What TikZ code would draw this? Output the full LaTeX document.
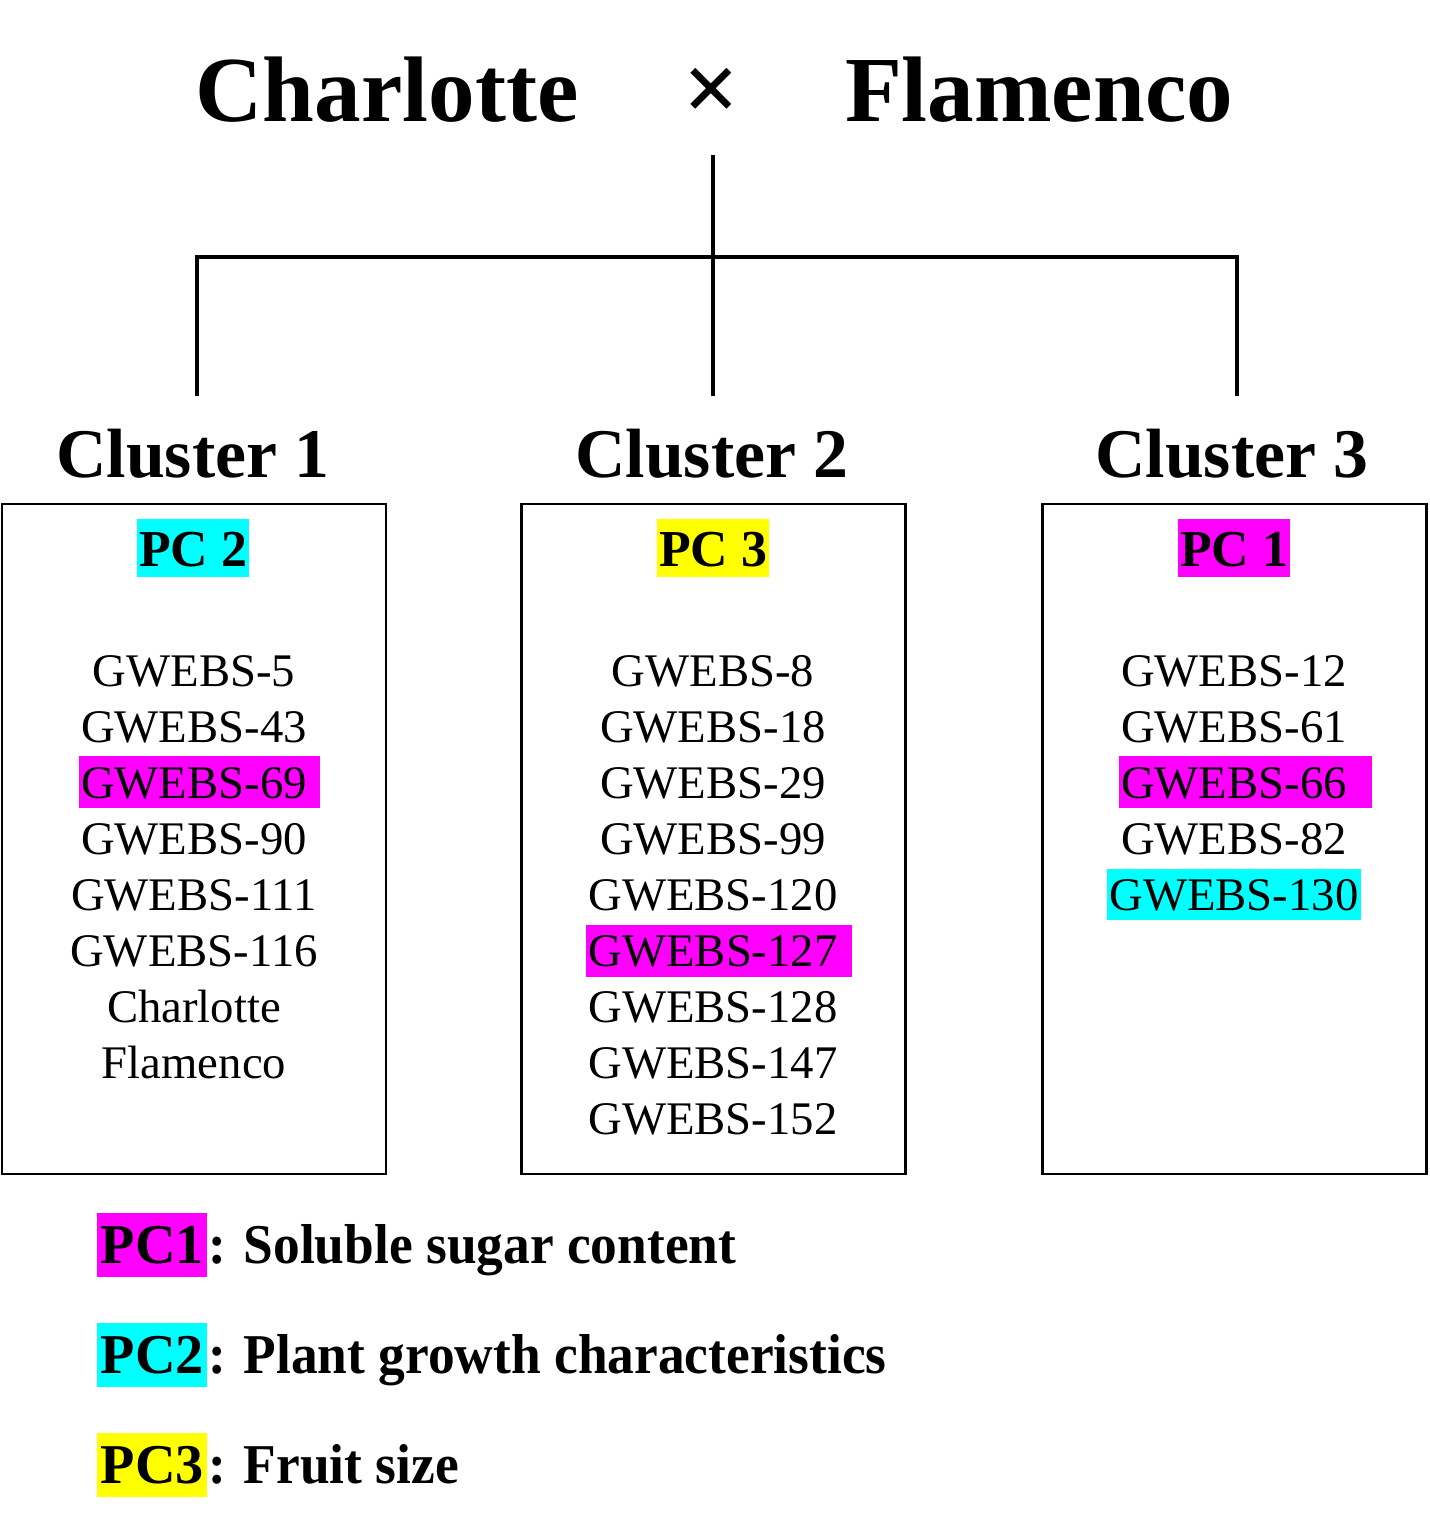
\documentclass[tikz,border=0pt]{standalone}
\usepackage{fontspec}
\setmainfont{Liberation Serif}
\newfontfamily\legfont{Liberation Serif}[FakeStretch=0.95]
\usepackage{tikz}
\definecolor{pcone}{RGB}{255,0,255}
\definecolor{pctwo}{RGB}{0,255,255}
\definecolor{pcthree}{RGB}{255,255,0}
\usetikzlibrary{positioning}

\begin{document}
\begin{tikzpicture}[x=0.02cm, y=-0.02cm,
    parentname/.style={font=\bfseries\fontsize{53pt}{60pt}\selectfont, anchor=base, inner sep=0pt},
    clusterhead/.style={font=\bfseries\fontsize{39.7pt}{45pt}\selectfont, anchor=base, inner sep=0pt},
    clusterbox/.style={draw, line width=1.6pt, minimum width=7.68cm, minimum height=13.4cm, inner sep=0pt},
    pclabel/.style={fill=#1, font=\bfseries\fontsize{29.5pt}{34pt}\selectfont, anchor=base,
                    inner xsep=1.2pt, inner ysep=0pt, text height=26.6pt, text depth=6.2pt},
    entry/.style={fill=#1, font=\fontsize{26.6pt}{31pt}\selectfont, anchor=base,
                  inner xsep=1.2pt, inner ysep=0pt, text height=23.8pt, text depth=5.7pt},
    legkey/.style={fill=#1, font=\bfseries\fontsize{32pt}{36pt}\selectfont, anchor=base west,
                   inner xsep=2pt, inner ysep=0pt, text height=28.3pt, text depth=7.9pt},
    legtext/.style={font=\legfont\bfseries\fontsize{32pt}{36pt}\selectfont, anchor=base west, inner sep=0pt},
    tree/.style={line width=2.2pt}
]
    \useasboundingbox (0,0) rectangle (1429,1533);

    % parents
    \node[parentname] (mother) at (387,122) {Charlotte};
    \node[font=\bfseries\fontsize{56pt}{60pt}\selectfont, inner sep=0pt] (cross) at (712,95) {×};
    \node[parentname] (father) at (1039,122) {Flamenco};

    % tree
    \coordinate (stem) at (713,155);
    \coordinate (fork) at (713,257);
    \coordinate (b1) at (197,396);
    \coordinate (b2) at (713,396);
    \coordinate (b3) at (1237,396);
    \draw[tree] (stem) -- (b2);
    \draw[tree] (b1) -- (b1 |- fork) -- (b3 |- fork) -- (b3);

    % clusters
    \node[clusterhead] (h1) at (193,478) {Cluster 1};
    \node[clusterhead] (h2) at (712,478) {Cluster 2};
    \node[clusterhead] (h3) at (1232,478) {Cluster 3};

    \node[clusterbox] (box1) at (194,839) {};
    \node[clusterbox] (box2) at (713.5,839) {};
    \node[clusterbox] (box3) at (1234.5,839) {};

    \node[pclabel=pctwo] (pc2) at (193,566) {PC 2};
    \node[pclabel=pcthree] (pc3) at (713,566) {PC 3};
    \node[pclabel=pcone] (pc1) at (1234,566) {PC 1};

    % members, the last field is extra highlight room on the right (pt)
    \foreach \gid/\hue/\pad [count=\i from 0] in {GWEBS-5/none/0, GWEBS-43/none/0, GWEBS-69/pcone/6,
        GWEBS-90/none/0, GWEBS-111/none/0, GWEBS-116/none/0, Charlotte/none/0, Flamenco/none/0}
        \node[entry=\hue] (c1e\i) at ({194+0.882*\pad},{686+56.1*\i}) {\gid\hspace*{\pad pt}};

    \foreach \gid/\hue/\pad [count=\i from 0] in {GWEBS-8/none/0, GWEBS-18/none/0, GWEBS-29/none/0,
        GWEBS-99/none/0, GWEBS-120/none/0, GWEBS-127/pcone/7, GWEBS-128/none/0, GWEBS-147/none/0,
        GWEBS-152/none/0}
        \node[entry=\hue] (c2e\i) at ({713+0.882*\pad},{686+56.1*\i}) {\gid\hspace*{\pad pt}};

    \foreach \gid/\hue/\pad [count=\i from 0] in {GWEBS-12/none/0, GWEBS-61/none/0, GWEBS-66/pcone/13,
        GWEBS-82/none/0, GWEBS-130/pctwo/0}
        \node[entry=\hue] (c3e\i) at ({1234+0.882*\pad},{686+56.1*\i}) {\gid\hspace*{\pad pt}};

    % legend
    \node[legkey=pcone] (k1) at (97,1263) {PC1};
    \node[legtext] (t1) at (k1.base east) {: Soluble sugar content};
    \node[legkey=pctwo] (k2) at (97,1373) {PC2};
    \node[legtext] (t2) at (k2.base east) {: Plant growth characteristics};
    \node[legkey=pcthree] (k3) at (97,1483) {PC3};
    \node[legtext] (t3) at (k3.base east) {: Fruit size};
\end{tikzpicture}
\end{document}
